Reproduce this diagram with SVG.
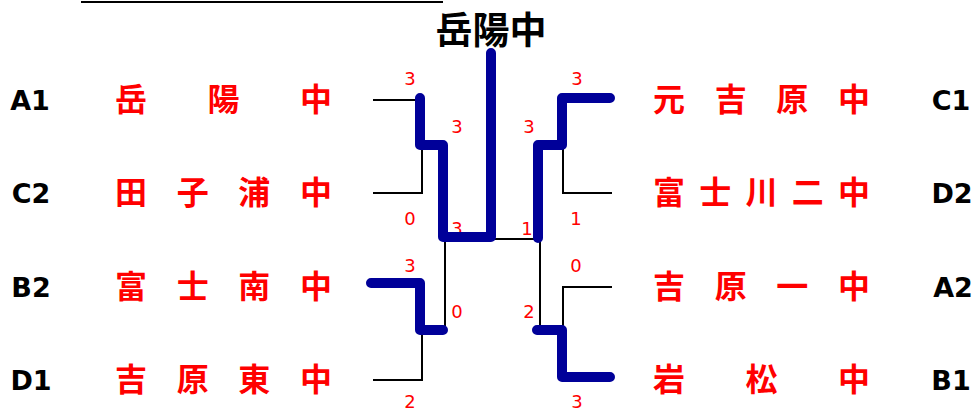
<svg xmlns="http://www.w3.org/2000/svg" width="976" height="412" viewBox="0 0 976 412">
<style>
.lab{font-family:"DejaVu Sans","Liberation Sans",sans-serif;font-weight:bold;font-size:27px;fill:#000;text-anchor:middle}
.nm{font-family:"Noto Sans CJK JP","Noto Sans CJK SC",sans-serif;font-weight:bold;font-size:32px;fill:#ff0000}
.ttl{font-family:"Noto Sans CJK JP","Noto Sans CJK SC",sans-serif;font-weight:bold;font-size:37px;fill:#000;text-anchor:middle}
.sc{font-family:"DejaVu Sans","Liberation Sans",sans-serif;font-size:18px;fill:#ff0000;text-anchor:middle}
.thin{fill:none;stroke:#000;stroke-width:2}
.win{fill:none;stroke:#000099;stroke-width:10;stroke-linecap:round;stroke-linejoin:round}
</style>
<rect width="976" height="412" fill="#fff"/>
<line x1="81" y1="2" x2="443" y2="2" stroke="#000" stroke-width="2"/>
<g id="title"><text class="ttl" x="491" y="44">岳陽中</text></g>
<g id="t-A1"><text class="lab" x="30" y="110">A1</text>
<text class="nm" y="111"><tspan x="115">岳</tspan><tspan x="207.5">陽</tspan><tspan x="300">中</tspan></text></g>
<g id="t-C2"><text class="lab" x="31" y="203">C2</text>
<text class="nm" y="204"><tspan x="115">田</tspan><tspan x="176.7">子</tspan><tspan x="238.3">浦</tspan><tspan x="300">中</tspan></text></g>
<g id="t-B2"><text class="lab" x="31" y="297">B2</text>
<text class="nm" y="298"><tspan x="115">富</tspan><tspan x="176.7">士</tspan><tspan x="238.3">南</tspan><tspan x="300">中</tspan></text></g>
<g id="t-D1"><text class="lab" x="31" y="390">D1</text>
<text class="nm" y="391"><tspan x="115">吉</tspan><tspan x="176.7">原</tspan><tspan x="238.3">東</tspan><tspan x="300">中</tspan></text></g>
<g id="t-C1"><text class="lab" x="951" y="110">C1</text>
<text class="nm" y="111"><tspan x="653">元</tspan><tspan x="714.7">吉</tspan><tspan x="776.3">原</tspan><tspan x="838">中</tspan></text></g>
<g id="t-D2"><text class="lab" x="952" y="203">D2</text>
<text class="nm" y="204"><tspan x="653">富</tspan><tspan x="699.3">士</tspan><tspan x="745.5">川</tspan><tspan x="791.8">二</tspan><tspan x="838">中</tspan></text></g>
<g id="t-A2"><text class="lab" x="953" y="297">A2</text>
<text class="nm" y="298"><tspan x="653">吉</tspan><tspan x="714.7">原</tspan><tspan x="776.3">一</tspan><tspan x="838">中</tspan></text></g>
<g id="t-B1"><text class="lab" x="951" y="390">B1</text>
<text class="nm" y="391"><tspan x="653">岩</tspan><tspan x="745.5">松</tspan><tspan x="838">中</tspan></text></g>
<g id="scores">
<text class="sc" x="410" y="85">3</text>
<text class="sc" x="410" y="225">0</text>
<text class="sc" x="457" y="133">3</text>
<text class="sc" x="457" y="235">3</text>
<text class="sc" x="577" y="85">3</text>
<text class="sc" x="576" y="225">1</text>
<text class="sc" x="529" y="133">3</text>
<text class="sc" x="527" y="235">1</text>
<text class="sc" x="410" y="272">3</text>
<text class="sc" x="410" y="408">2</text>
<text class="sc" x="457" y="318">0</text>
<text class="sc" x="576" y="272">0</text>
<text class="sc" x="577" y="408">3</text>
<text class="sc" x="529" y="318">2</text>
</g>
<g id="connectors">
<path class="thin" d="M373,100 H420"/>
<path class="thin" d="M373,193 H422 V145"/>
<path class="thin" d="M612,193 H563 V145"/>
<path class="thin" d="M491,239 H540 V330"/>
<path class="thin" d="M445,238 V330"/>
<path class="thin" d="M373,380 H422 V330"/>
<path class="thin" d="M612,287 H563 V330"/>
<path class="win" d="M420,98 V145 H443 V237 H491 V53"/>
<path class="win" d="M610,98 H562 V145 H538 V238"/>
<path class="win" d="M371,283 H420 V330 H443"/>
<path class="win" d="M537,330 H562 V377 H610"/>
</g>
</svg>
